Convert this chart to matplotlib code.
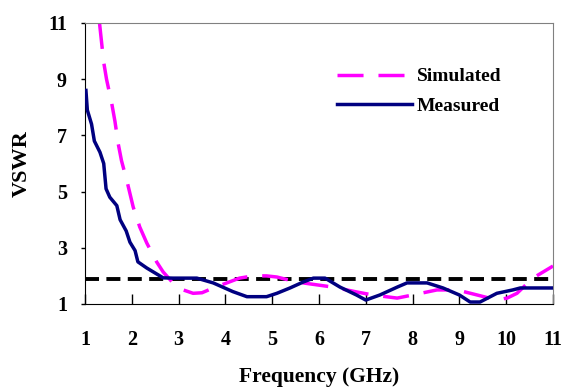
import matplotlib
matplotlib.use("Agg")
import matplotlib.pyplot as plt

plt.rcParams['font.family'] = ['Liberation Serif', 'DejaVu Serif']
plt.rcParams['font.weight'] = 'bold'

# measured VSWR
meas_f = [1.02, 1.05, 1.14, 1.2, 1.32, 1.4, 1.45, 1.53, 1.68, 1.75, 1.88, 1.96, 2.07, 2.13,
          2.32, 2.46, 2.67, 2.88, 3.39, 3.74, 4.16, 4.46, 4.88, 5.1, 5.38, 5.66, 5.88, 6.13,
          6.45, 6.8, 7.0, 7.3, 7.67, 7.88, 8.31, 8.65, 9.0, 9.23, 9.44, 9.8, 10.14, 10.3, 11.0]
meas_v = [8.6, 7.9, 7.4, 6.8, 6.4, 6.0, 5.1, 4.8, 4.5, 4.0, 3.6, 3.2, 2.9, 2.5,
          2.28, 2.14, 1.93, 1.92, 1.92, 1.75, 1.44, 1.26, 1.26, 1.38, 1.57, 1.78, 1.92, 1.92,
          1.6, 1.32, 1.14, 1.32, 1.6, 1.75, 1.75, 1.57, 1.32, 1.07, 1.07, 1.38, 1.5, 1.57, 1.57]

# simulated VSWR
sim_f = [1.31, 1.4, 1.46, 1.57, 1.64, 1.71, 1.78, 1.9, 2.03, 2.17, 2.32, 2.53, 2.67, 2.88,
         3.1, 3.31, 3.5, 3.74, 4.03, 4.3, 4.59, 4.88, 5.1, 5.53, 5.96, 6.3, 6.8, 7.15, 7.67,
         8.0, 8.52, 8.95, 9.38, 9.8, 10.02, 10.23, 10.57, 11.0]
sim_v = [11.0, 9.6, 9.0, 8.15, 7.5, 6.7, 6.1, 5.35, 4.45, 3.74, 3.17, 2.5, 2.14, 1.75,
         1.5, 1.38, 1.4, 1.57, 1.75, 1.92, 2.0, 2.0, 1.96, 1.78, 1.68, 1.6, 1.43, 1.32, 1.21,
         1.32, 1.5, 1.5, 1.32, 1.14, 1.21, 1.38, 1.92, 2.35]

ref_level = 1.88

xticks = list(range(1, 12))
yticks = [1, 3, 5, 7, 9, 11]

fig = plt.figure(figsize=(5.64, 3.87), dpi=100)
ax = fig.add_axes([0.1507, 0.2145, 0.8298, 0.7261])

ax.axhline(ref_level, color='black', lw=2.8, dashes=(3.6, 1.9), zorder=1)
ax.plot(sim_f, sim_v, color='#FF00FF', lw=2.5, dashes=(7.5, 4.3), label='Simulated', zorder=2)
ax.plot(meas_f, meas_v, color='#000080', lw=2.5, label='Measured', zorder=3)

ax.set_xlim(1, 11)
ax.set_ylim(1, 11)
ax.set_xticks(xticks)
ax.set_yticks(yticks)

ax.tick_params(axis='x', direction='in', length=7, width=1, pad=19, labelsize=14.5)
ax.tick_params(axis='y', direction='out', length=3, width=1, pad=10, labelsize=14.5)

for s in ['top', 'right']:
    ax.spines[s].set_color('#808080')
for s in ['left', 'bottom']:
    ax.spines[s].set_color('black')

ax.set_xlabel('Frequency (GHz)', fontsize=15.5, fontweight='bold', labelpad=12)
ax.set_ylabel('VSWR', fontsize=16, fontweight='bold', labelpad=12)

leg = fig.legend(loc='upper left', bbox_to_anchor=(0.5975, 0.825), frameon=False,
                 borderpad=0, borderaxespad=0, fontsize=14, handlelength=3.85,
                 handletextpad=0.25, labelspacing=0.62)
for t in leg.get_texts():
    t.set_fontweight('bold')

fig.savefig('out.png', dpi=100)
